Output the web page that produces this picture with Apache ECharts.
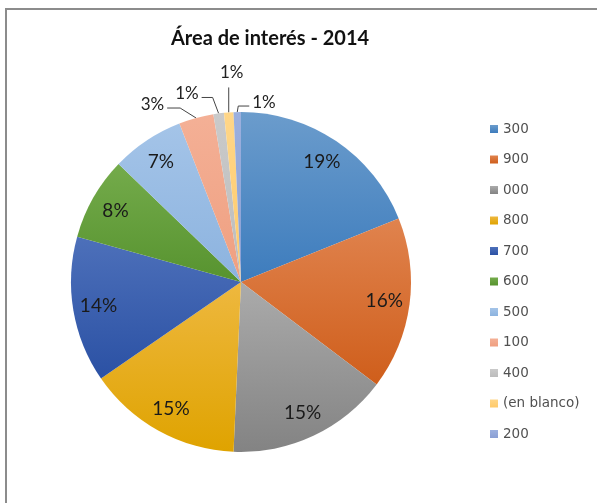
<!DOCTYPE html>
<html>
<head>
<meta charset="utf-8">
<script src="https://cdn.jsdelivr.net/npm/echarts@6/dist/echarts.min.js"></script>
<style>
html, body { margin: 0; padding: 0; background: #fff; }
#frame { position: absolute; left: 5px; top: 8px; width: 640px; height: 540px;
         border-left: 2px solid #8c8c8c; border-top: 2px solid #8c8c8c; }
#chart { position: absolute; left: 0; top: 0; width: 597px; height: 503px; }
</style>
</head>
<body>
<div id="frame"></div>
<div id="chart"></div>
<script>
// areas and their share of 2014
var categories = ['300', '900', '000', '800', '700', '600', '500', '100', '400', '(en blanco)', '200'];
var shares = [18.9, 16.4, 15.4, 14.7, 13.9, 7.9, 6.9, 3.3, 1.0, 0.9, 0.7];

// office-like palette, light at the top, darker at the bottom
var topColors = ['#6b9ccc', '#e0834e', '#ababab', '#eeb83f', '#4d70ba', '#74ab4b', '#a4c4e8', '#f4b096', '#cacaca', '#ffd688', '#9cb0de'];
var bottomColors = ['#3d7cbd', '#cf5e1b', '#838383', '#dfa300', '#2b51a4', '#57932f', '#8cb3df', '#ef9f80', '#bcbcbc', '#ffca6a', '#8a9fd4'];

// callouts for the thin slices: elbow dx, elbow dy, end dx (from the rim point)
var callouts = {
    '100': [-16, -10, -29],
    '400': [-6, -16, -17],
    '(en blanco)': [0, -25, 0],
    '200': [1, -6, 12]
};

var chart = echarts.init(document.getElementById('chart'));

var grad = function (i) {
    return new echarts.graphic.LinearGradient(0, 0, 0, 1, [
        { offset: 0, color: topColors[i] },
        { offset: 1, color: bottomColors[i] }
    ]);
};

var pieData = [];
var ringData = [];
for (var i = 0; i < categories.length; i++) {
    var small = shares[i] < 5;
    pieData.push({
        name: categories[i],
        value: shares[i],
        itemStyle: { color: grad(i) },
        label: { show: small },
        labelLine: { show: small }
    });
    ringData.push({
        name: categories[i],
        value: shares[i],
        label: { show: !small }
    });
}

chart.setOption({
    animation: false,
    title: {
        text: 'Área de interés - 2014',
        left: 166,
        top: 24,
        textStyle: { fontFamily: 'Lato', fontWeight: 'bold', fontSize: 20, color: '#111' }
    },
    legend: {
        orient: 'vertical',
        left: 485,
        top: 117,
        itemWidth: 8,
        itemHeight: 8,
        itemGap: 16.5,
        icon: 'rect',
        data: categories,
        textStyle: { fontFamily: 'DejaVu Sans', fontSize: 13.5, color: '#505050' }
    },
    series: [{
        type: 'pie',
        center: [241, 282],
        radius: 170,
        startAngle: 90,
        clockwise: true,
        percentPrecision: 0,
        data: pieData,
        itemStyle: { borderWidth: 0 },
        label: {
            position: 'outside',
            formatter: '{d}%',
            fontFamily: 'Lato',
            fontSize: 17,
            color: '#222'
        },
        labelLine: {
            length: 14,
            length2: 8,
            lineStyle: { color: '#444', width: 1 }
        },
        labelLayout: function (p) {
            var c = callouts[categories[p.dataIndex]];
            if (!c || !p.labelLinePoints) {
                return {};
            }
            var rim = p.labelLinePoints[0];
            var elbow = [rim[0] + c[0], rim[1] + c[1]];
            var end = [rim[0] + c[2], elbow[1]];
            var out = { labelLinePoints: [rim, elbow, end], verticalAlign: 'middle' };
            if (c[2] < c[0]) {
                out.align = 'right';
                out.x = end[0] - 3;
                out.y = end[1] - 4;
            } else if (c[2] > c[0]) {
                out.align = 'left';
                out.x = end[0] + 3;
                out.y = end[1] - 4;
            } else {
                out.align = 'center';
                out.x = end[0] + 3;
                out.y = end[1] - 15;
            }
            return out;
        }
    }, {
        // transparent ring only used to place the big labels near the rim
        type: 'pie',
        center: [241, 282],
        radius: [113, 170],
        startAngle: 90,
        clockwise: true,
        percentPrecision: 0,
        silent: true,
        data: ringData,
        itemStyle: { color: 'rgba(0,0,0,0)' },
        label: {
            position: 'inside',
            formatter: '{d}%',
            fontFamily: 'Lato',
            fontSize: 19,
            color: '#1a1a1a'
        },
        labelLine: { show: false }
    }]
});
</script>
</body>
</html>
